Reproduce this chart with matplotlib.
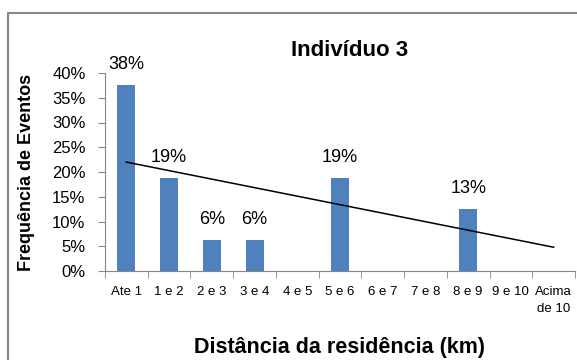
import numpy as np
import matplotlib.pyplot as plt
from matplotlib.patches import Rectangle

categorias = ["Ate 1", "1 e 2", "2 e 3", "3 e 4", "4 e 5", "5 e 6", "6 e 7",
              "7 e 8", "8 e 9", "9 e 10", "Acima\nde 10"]
freq = [37.5, 18.75, 6.25, 6.25, 0, 18.75, 0, 0, 12.5, 0, 0]
rotulos = ["38%", "19%", "6%", "6%", "", "19%", "", "", "13%", "", ""]
tendencia = [22.0, 4.8]  # linha de tendencia (primeira e ultima categoria)

plt.rcParams['font.family'] = ['Liberation Sans Narrow', 'Liberation Sans', 'DejaVu Sans']

azul = "#4F81BD"
cinza = "#868686"

fig = plt.figure(figsize=(5.77, 3.6), dpi=100)
ax = fig.add_axes([105/577, 1-271/360, 470/577, 198/360])

x = np.arange(len(categorias))
ax.bar(x, freq, width=0.42, color=azul, zorder=2)
ax.plot([x[0], x[-1]], tendencia, color="black", lw=1.1, zorder=3)

for xi, v, r in zip(x, freq, rotulos):
    if r:
        ax.annotate(r, (xi, v), xytext=(0, 15), textcoords="offset points",
                    ha="center", va="center", fontsize=13)

ax.set_xlim(-0.5, len(categorias) - 0.5)
ax.set_ylim(0, 40)
ax.set_yticks(np.arange(0, 41, 5))
ax.set_yticklabels([f"{v}%" for v in range(0, 41, 5)], fontsize=12)
ax.set_xticks(x)
ax.set_xticklabels(categorias, fontsize=9.5, va="top", linespacing=1.5)
ax.set_xticks(np.arange(-0.5, len(categorias)), minor=True)
ax.tick_params(axis="x", which="major", length=0, pad=11)
ax.tick_params(axis="x", which="minor", length=5, color=cinza)
ax.tick_params(axis="y", length=5, color=cinza, pad=9)

for s in ["top", "right"]:
    ax.spines[s].set_visible(False)
for s in ["left", "bottom"]:
    ax.spines[s].set_color(cinza)

fig.text(350/577, 1-50/360, "Indivíduo 3", fontsize=16, fontweight="bold",
         ha="center", va="center")
ax.set_xlabel("Distância da residência (km)", fontsize=15.5, fontweight="bold", labelpad=16)
ax.set_ylabel("Frequência de Eventos", fontsize=13, fontweight="bold", labelpad=12)

fig.patches.append(Rectangle((8/577, -0.1), 1.2, 1 - 12.5/360 + 0.1, transform=fig.transFigure,
                             fill=False, edgecolor=cinza, lw=1.5))

fig.savefig("out.png", dpi=100)
